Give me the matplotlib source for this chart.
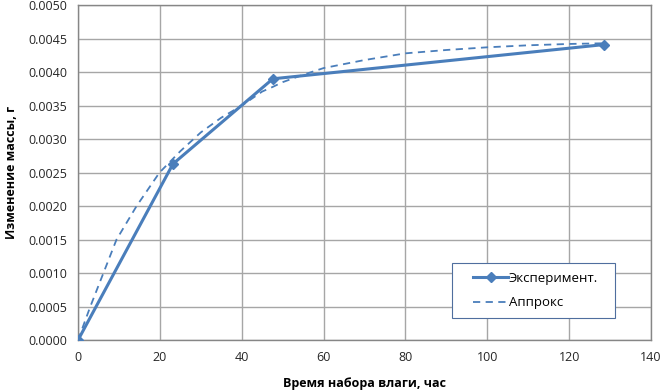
import numpy as np
import matplotlib.pyplot as plt
from matplotlib.patches import Rectangle
from matplotlib.ticker import MultipleLocator, FormatStrFormatter

plt.rcParams['font.family'] = ['Open Sans', 'DejaVu Sans']

# experimental points
t_exp = [0, 23.2, 47.6, 128.4]
m_exp = [0.0, 0.00263, 0.00390, 0.00441]

# approximation curve
t_fit = [0, 3.0, 6.2, 9.4, 14.3, 19.9, 25, 30, 35, 40, 45, 47.6, 50,
         55, 60, 70, 80, 90, 100, 110, 120, 128.4]
m_fit = [0.0, 0.0005, 0.0010, 0.0015, 0.0020, 0.0025, 0.00282, 0.00310,
         0.00332, 0.00350, 0.00371, 0.00378, 0.00385, 0.00396, 0.00406,
         0.00418, 0.00428, 0.00433, 0.00437, 0.00440, 0.00442, 0.00443]

line_c = "#4A7EBB"

fig = plt.figure(figsize=(6.61, 3.91), dpi=100)
ax = fig.add_axes([0.118, 0.130, 0.867, 0.857])

ax.plot(t_exp, m_exp, color=line_c, lw=2.2, marker="D", ms=5.5,
        label="Эксперимент.", zorder=3)
ax.plot(t_fit, m_fit, color=line_c, lw=1.3, ls=(0, (4, 3)),
        label="Аппрокс", zorder=3)

ax.set_xlim(0, 140); ax.set_ylim(0, 0.005)
ax.xaxis.set_major_locator(MultipleLocator(20))
ax.yaxis.set_major_locator(MultipleLocator(0.0005))
ax.yaxis.set_major_formatter(FormatStrFormatter("%.4f"))
ax.grid(True, color="#A6A6A6", lw=1.0)
ax.set_axisbelow(True)
for s in ax.spines.values():
    s.set_color("#868686"); s.set_linewidth(1.0)
ax.tick_params(length=0, labelsize=9, pad=8, colors="#262626")

ax.set_xlabel("Время набора влаги, час", fontsize=9, fontweight="bold", labelpad=9)
ax.set_ylabel("Изменение массы, г", fontsize=9, fontweight="bold", labelpad=7)

# legend box drawn separately so the inner padding can match
box = Rectangle((0.653, 0.066), 0.284, 0.164, transform=ax.transAxes,
                facecolor="white", edgecolor="#4F6E9E", lw=0.8, zorder=4)
ax.add_patch(box)
leg = ax.legend(loc="center left", bbox_to_anchor=(0.69, 0.148),
                fontsize=9.5, frameon=False, handlelength=2.6,
                borderaxespad=0, borderpad=0, labelspacing=0.85,
                handletextpad=0.1)
leg.set_zorder(5)

fig.savefig("out.png", dpi=100)
